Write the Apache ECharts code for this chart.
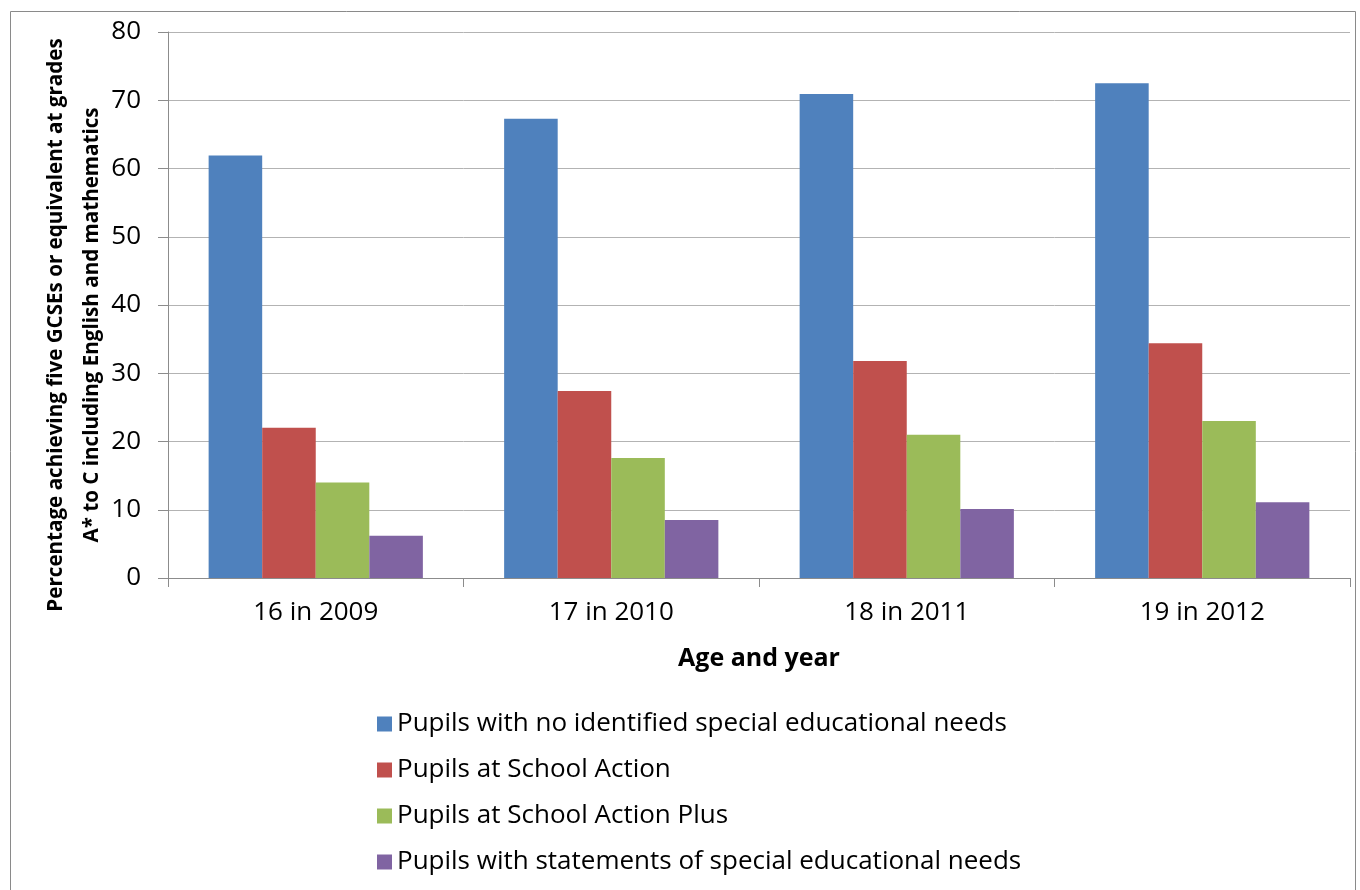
<!DOCTYPE html>
<html><head><meta charset="utf-8">
<script src="https://cdn.jsdelivr.net/npm/echarts@6/dist/echarts.min.js"></script>
<style>html,body{margin:0;padding:0;background:#fff}#c{width:1360px;height:890px}</style>
</head><body><div id="c"></div>
<script>
const categories = ['16 in 2009', '17 in 2010', '18 in 2011', '19 in 2012'];
const seriesNames = [
  'Pupils with no identified special educational needs',
  'Pupils at School Action',
  'Pupils at School Action Plus',
  'Pupils with statements of special educational needs'
];
const noSEN = [61.9, 67.3, 70.9, 72.5];
const schoolAction = [22.0, 27.4, 31.8, 34.4];
const schoolActionPlus = [14.0, 17.6, 21.0, 23.0];
const statements = [6.2, 8.5, 10.1, 11.1];
const colors = ['#4F81BD', '#C0504D', '#9BBB59', '#8064A2'];
const FONT = '"Open Sans", "Noto Sans", sans-serif';

const chart = echarts.init(document.getElementById('c'));
const data = [noSEN, schoolAction, schoolActionPlus, statements];
chart.setOption({
  animation: false,
  textStyle: {fontFamily: FONT},
  graphic: [
    {type: 'rect', shape: {x: 10.5, y: 11.5, width: 1345, height: 900}, style: {fill: 'none', stroke: '#8a8a8a', lineWidth: 1}}
  ],
  grid: {left: 168, right: 10, top: 32, bottom: 312, containLabel: false, outerBoundsMode: 'none'},
  legend: {
    orient: 'vertical', left: 372, top: 706, itemGap: 20, itemWidth: 15, itemHeight: 15,
    icon: 'rect',
    textStyle: {fontSize: 26, color: '#000', fontFamily: FONT},
    data: seriesNames
  },
  xAxis: {
    type: 'category', data: categories,
    name: 'Age and year', nameLocation: 'middle', nameGap: 68, nameMoveOverlap: false,
    nameTextStyle: {fontSize: 25, fontWeight: 'bold', color: '#000'},
    axisLine: {lineStyle: {color: '#8c8c8c'}},
    axisTick: {show: true, length: 9, lineStyle: {color: '#8c8c8c'}},
    axisLabel: {fontSize: 26, color: '#000', margin: 22}
  },
  yAxis: {
    type: 'value', min: 0, max: 80, interval: 10,
    name: 'Percentage achieving five GCSEs or equivalent at grades\nA* to C including English and mathematics',
    nameLocation: 'middle', nameGap: 58, nameRotate: 90, nameMoveOverlap: false,
    nameTextStyle: {fontSize: 20.6, fontWeight: 'bold', color: '#000', lineHeight: 36, padding: [0, 40, 0, 0]},
    axisLine: {show: true, lineStyle: {color: '#8c8c8c'}},
    axisTick: {show: true, length: 10, lineStyle: {color: '#8c8c8c'}},
    axisLabel: {fontSize: 26, color: '#000', margin: 27},
    splitLine: {lineStyle: {color: '#b3b3b3'}}
  },
  series: data.map((d, i) => ({
    name: seriesNames[i], type: 'bar', data: d,
    barGap: '0%', barCategoryGap: '27.5%',
    itemStyle: {color: colors[i]}
  }))
});
</script></body></html>
